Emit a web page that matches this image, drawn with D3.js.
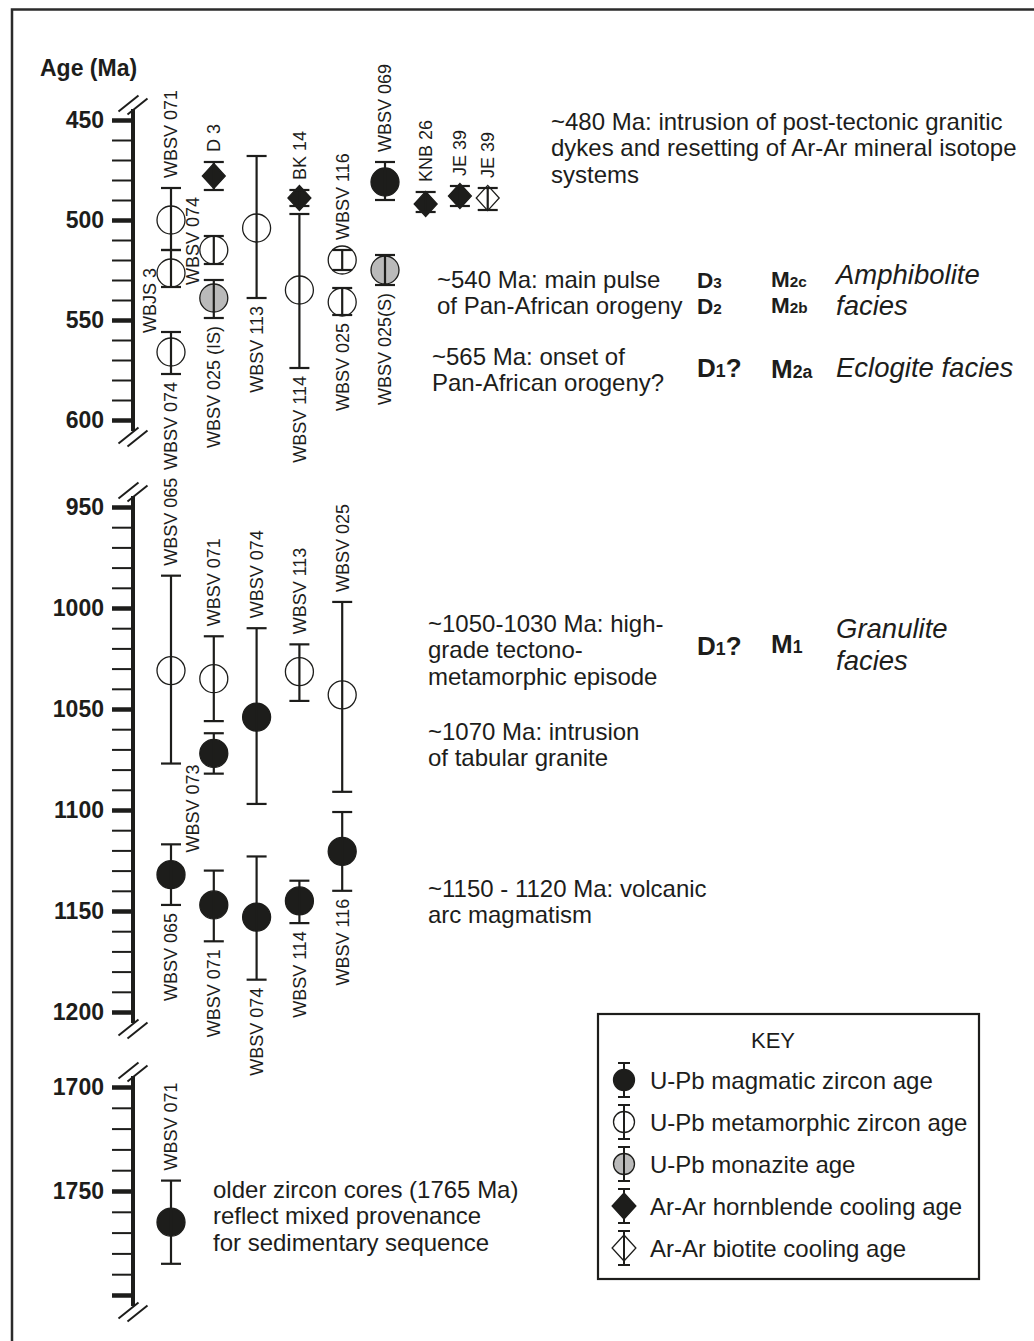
<!DOCTYPE html>
<html>
<head>
<meta charset="utf-8">
<script src="https://cdn.jsdelivr.net/npm/d3@7"></script>
<style>
  body { margin: 0; background: #fff; }
  svg text { font-family: "Liberation Sans", Arial, Helvetica, sans-serif; fill: #1d1d1b; }
</style>
</head>
<body>
<script>
// ---- data ----
const segmentNames = ['upper', 'middle', 'lower'];
const segmentDomains = [[450, 600], [950, 1200], [1700, 1800]];
const tickLabels = [[450, 500, 550, 600], [950, 1000, 1050, 1100, 1150, 1200], [1700, 1750]];
const minorStep = 10;

const ageTypes = ['magmatic', 'metamorphic', 'monazite', 'hornblende', 'biotite'];
const keyLabels = ['U-Pb magmatic zircon age', 'U-Pb metamorphic zircon age', 'U-Pb monazite age',
  'Ar-Ar hornblende cooling age', 'Ar-Ar biotite cooling age'];

// col = sample column, side = where the sample name sits, labelAge = start of a side label
const upperSamples = [
  { name: 'WBSV 071', type: 'metamorphic', col: 1, age: 500, lo: 484, hi: 515, side: 'above' },
  { name: 'WBJS 3', type: 'metamorphic', col: 1, age: 526.5, lo: 515, hi: 533.5, side: 'left', labelAge: 556.5 },
  { name: 'WBSV 074', type: 'metamorphic', col: 1, age: 566, lo: 556, hi: 577, side: 'below' },
  { name: 'D 3', type: 'hornblende', col: 2, age: 478, lo: 471, hi: 485, side: 'above' },
  { name: 'WBSV 074', type: 'metamorphic', col: 2, age: 515, lo: 508, hi: 522, side: 'left', labelAge: 532.5 },
  { name: 'WBSV 025 (IS)', type: 'monazite', col: 2, age: 539, lo: 530, hi: 549, side: 'below' },
  { name: 'WBSV 113', type: 'metamorphic', col: 3, age: 504, lo: 468, hi: 539, side: 'below' },
  { name: 'BK 14', type: 'hornblende', col: 4, age: 489, lo: 485, hi: 493, side: 'above' },
  { name: 'WBSV 114', type: 'metamorphic', col: 4, age: 535, lo: 497, hi: 574, side: 'below' },
  { name: 'WBSV 116', type: 'metamorphic', col: 5, age: 520, lo: 515, hi: 525, side: 'above' },
  { name: 'WBSV 025', type: 'metamorphic', col: 5, age: 541, lo: 534, hi: 547.5, side: 'below' },
  { name: 'WBSV 069', type: 'magmatic', col: 6, age: 481, lo: 471, hi: 490, side: 'above' },
  { name: 'WBSV 025(S)', type: 'monazite', col: 6, age: 525, lo: 517.5, hi: 532.5, side: 'below' },
  { name: 'KNB 26', type: 'hornblende', col: 6.95, age: 492, lo: 486, hi: 496, side: 'above' },
  { name: 'JE 39', type: 'hornblende', col: 7.75, age: 488, lo: 483, hi: 493, side: 'above' },
  { name: 'JE 39', type: 'biotite', col: 8.4, age: 489, lo: 484, hi: 495, side: 'above' }
];

const middleSamples = [
  { name: 'WBSV 065', type: 'metamorphic', col: 1, age: 1031, lo: 984, hi: 1077, side: 'above' },
  { name: 'WBSV 071', type: 'metamorphic', col: 2, age: 1035, lo: 1014, hi: 1056, side: 'above' },
  { name: 'WBSV 073', type: 'magmatic', col: 2, age: 1072, lo: 1062, hi: 1082, side: 'left', labelAge: 1121 },
  { name: 'WBSV 074', type: 'magmatic', col: 3, age: 1054, lo: 1010, hi: 1097, side: 'above' },
  { name: 'WBSV 113', type: 'metamorphic', col: 4, age: 1031.5, lo: 1018, hi: 1046, side: 'above' },
  { name: 'WBSV 025', type: 'metamorphic', col: 5, age: 1043, lo: 997, hi: 1091, side: 'above' },
  { name: 'WBSV 065', type: 'magmatic', col: 1, age: 1132, lo: 1117, hi: 1147, side: 'below' },
  { name: 'WBSV 071', type: 'magmatic', col: 2, age: 1147, lo: 1130, hi: 1165, side: 'below' },
  { name: 'WBSV 074', type: 'magmatic', col: 3, age: 1153, lo: 1123, hi: 1184, side: 'below' },
  { name: 'WBSV 114', type: 'magmatic', col: 4, age: 1145, lo: 1135, hi: 1156, side: 'below' },
  { name: 'WBSV 116', type: 'magmatic', col: 5, age: 1120.5, lo: 1101, hi: 1140, side: 'below' }
];

const lowerSamples = [
  { name: 'WBSV 071', type: 'magmatic', col: 1, age: 1765, lo: 1745, hi: 1785, side: 'above' }
];

const eventNotes = [
  ['~480 Ma: intrusion of post-tectonic granitic', 'dykes and resetting of Ar-Ar mineral isotope', 'systems'],
  ['~540 Ma: main pulse', 'of Pan-African orogeny'],
  ['~565 Ma: onset of', 'Pan-African orogeny?'],
  ['~1050-1030 Ma: high-', 'grade tectono-', 'metamorphic episode'],
  ['~1070 Ma: intrusion', 'of tabular granite'],
  ['~1150 - 1120 Ma: volcanic', 'arc magmatism'],
  ['older zircon cores (1765 Ma)', 'reflect mixed provenance', 'for sedimentary sequence']
];
const deformation = [['D', '3'], ['D', '2'], ['D', '1', '?'], ['D', '1', '?']];
const metamorphism = [['M', '2c'], ['M', '2b'], ['M', '2a'], ['M', '1']];
const faciesNames = ['Amphibolite', 'facies', 'Eclogite facies', 'Granulite', 'facies'];

// ---- layout ----
const width = 1034, height = 1341;
const axisX = 133;
const ink = '#1d1d1b';
const segRanges = [[120, 420], [507, 1012], [1087, 1295]];
const samplesBySeg = [upperSamples, middleSamples, lowerSamples];

const svg = d3.select('body').append('svg')
  .attr('width', width).attr('height', height);

// outer frame (cut by the page on the right and bottom)
svg.append('rect')
  .attr('x', 12).attr('y', 9.5).attr('width', 1100).attr('height', 1400)
  .attr('fill', 'none').attr('stroke', '#2b2b2b').attr('stroke-width', 2.5);

svg.append('text')
  .attr('x', 40).attr('y', 76)
  .attr('font-size', 23).attr('font-weight', 'bold')
  .text('Age (Ma)');

const colX = d3.scaleLinear().domain([1, 6]).range([171, 385]);

function breakMark(y) {
  [-5, 5].forEach(off => {
    svg.append('line')
      .attr('x1', axisX - 10 + off * 0.9).attr('y1', y + 8 + off * 0.3)
      .attr('x2', axisX + 10 + off * 0.9).attr('y2', y - 8 + off * 0.3)
      .attr('stroke', ink).attr('stroke-width', 2);
  });
}

function marker(g, type, cx, cy, r) {
  if (type === 'hornblende' || type === 'biotite') {
    const w = r * 0.82, h = r * 0.9;
    g.append('path')
      .attr('d', `M${cx},${cy - h}L${cx + w},${cy}L${cx},${cy + h}L${cx - w},${cy}Z`)
      .attr('fill', type === 'hornblende' ? ink : '#fff')
      .attr('stroke', ink).attr('stroke-width', 1.3);
  } else {
    g.append('circle')
      .attr('cx', cx).attr('cy', cy).attr('r', r)
      .attr('fill', type === 'magmatic' ? ink : type === 'monazite' ? '#bababa' : '#fff')
      .attr('stroke', ink).attr('stroke-width', 1.3);
  }
}

function errorBar(g, x, y1, y2, capW, sw) {
  g.append('line').attr('x1', x).attr('x2', x).attr('y1', y1).attr('y2', y2)
    .attr('stroke', ink).attr('stroke-width', sw);
  [y1, y2].forEach(yy => g.append('line')
    .attr('x1', x - capW / 2).attr('x2', x + capW / 2).attr('y1', yy).attr('y2', yy)
    .attr('stroke', ink).attr('stroke-width', sw));
}

segmentNames.forEach((name, i) => {
  const dom = segmentDomains[i];
  const y = d3.scaleLinear().domain(dom).range(segRanges[i]);
  const ticks = d3.range(dom[0], dom[1] + 0.1, minorStep);

  // axis spine and break marks
  svg.append('line')
    .attr('x1', axisX).attr('x2', axisX)
    .attr('y1', y(dom[0]) - 11).attr('y2', y(dom[1]) + 11)
    .attr('stroke', ink).attr('stroke-width', 4);
  breakMark(y(dom[0]) - 15);
  breakMark(y(dom[1]) + 17);

  const axis = svg.append('g')
    .attr('class', 'axis ' + name)
    .attr('transform', `translate(${axisX},0)`)
    .call(d3.axisLeft(y).tickValues(ticks).tickSize(21).tickSizeOuter(0).tickPadding(8)
      .tickFormat(v => tickLabels[i].includes(v) ? v : ''));
  axis.select('.domain').remove();
  axis.selectAll('.tick line')
    .attr('stroke', ink)
    .attr('stroke-width', v => v % 50 === 0 ? 4.5 : 2);
  axis.selectAll('.tick text')
    .attr('font-size', 23).attr('font-weight', 'bold')
    .attr('font-family', '"Liberation Sans", Arial, sans-serif')
    .attr('fill', ink);

  // samples
  const g = svg.append('g').attr('class', 'samples ' + name);
  samplesBySeg[i].forEach(s => {
    const x = colX(s.col);
    marker(g, s.type, x, y(s.age), 14);
    errorBar(g, x, y(s.lo), y(s.hi), 20, 2.2);

    let tx = x, ty, anchor;
    if (s.side === 'above') { ty = y(s.lo) - 10; anchor = 'start'; }
    else if (s.side === 'below') { ty = y(s.hi) + 8; anchor = 'end'; }
    else { tx = x - 21; ty = y(s.labelAge); anchor = 'start'; }
    g.append('text')
      .attr('transform', `translate(${tx},${ty}) rotate(-90)`)
      .attr('dy', '0.35em')
      .attr('text-anchor', anchor)
      .attr('font-size', 18)
      .text(s.name);
  });
});

// ---- event notes ----
const notePos = [[551, 130], [437, 288], [432, 365], [428, 632], [428, 740], [428, 897], [213, 1198]];
eventNotes.forEach((lines, i) => {
  const t = svg.append('text')
    .attr('x', notePos[i][0]).attr('y', notePos[i][1])
    .attr('font-size', 24);
  lines.forEach((ln, j) => t.append('tspan')
    .attr('x', notePos[i][0]).attr('dy', j === 0 ? 0 : 26.3).text(ln));
});

function stageLabel(x, y, parts, size) {
  const t = svg.append('text').attr('x', x).attr('y', y)
    .attr('font-weight', 'bold').attr('font-size', size);
  t.append('tspan').text(parts[0]);
  t.append('tspan').attr('font-size', size * 0.68).text(parts[1]);
  if (parts[2]) t.append('tspan').text(parts[2]);
}
const stageSize = [22.5, 22.5, 26, 26];
const dPos = [[697, 288], [697, 314], [697, 377], [697, 655]];
deformation.forEach((p, i) => stageLabel(dPos[i][0], dPos[i][1], p, stageSize[i]));
const mPos = [[771, 287], [771, 313], [771, 378], [771, 653]];
metamorphism.forEach((p, i) => stageLabel(mPos[i][0], mPos[i][1], p, stageSize[i]));

const fPos = [[836, 284], [836, 315], [836, 377], [836, 638], [836, 670]];
faciesNames.forEach((f, i) => svg.append('text')
  .attr('x', fPos[i][0]).attr('y', fPos[i][1])
  .attr('font-size', 27.5).attr('font-style', 'italic').text(f));

// ---- key ----
const key = svg.append('g').attr('class', 'key');
key.append('rect')
  .attr('x', 598).attr('y', 1014).attr('width', 381).attr('height', 265)
  .attr('fill', '#fff').attr('stroke', ink).attr('stroke-width', 2.2);
key.append('text')
  .attr('x', 773).attr('y', 1048).attr('text-anchor', 'middle')
  .attr('font-size', 22).text('KEY');

const keyY = d3.scalePoint().domain(ageTypes).range([1080, 1248]);
ageTypes.forEach((t, i) => {
  const cy = keyY(t);
  marker(key, t, 624, cy, t === 'hornblende' || t === 'biotite' ? 14.5 : 10.5);
  errorBar(key, 624, cy - 17, cy + 17, 12, 2);
  key.append('text')
    .attr('x', 650).attr('y', cy + 9)
    .attr('font-size', 24).text(keyLabels[i]);
});
</script>
</body>
</html>
